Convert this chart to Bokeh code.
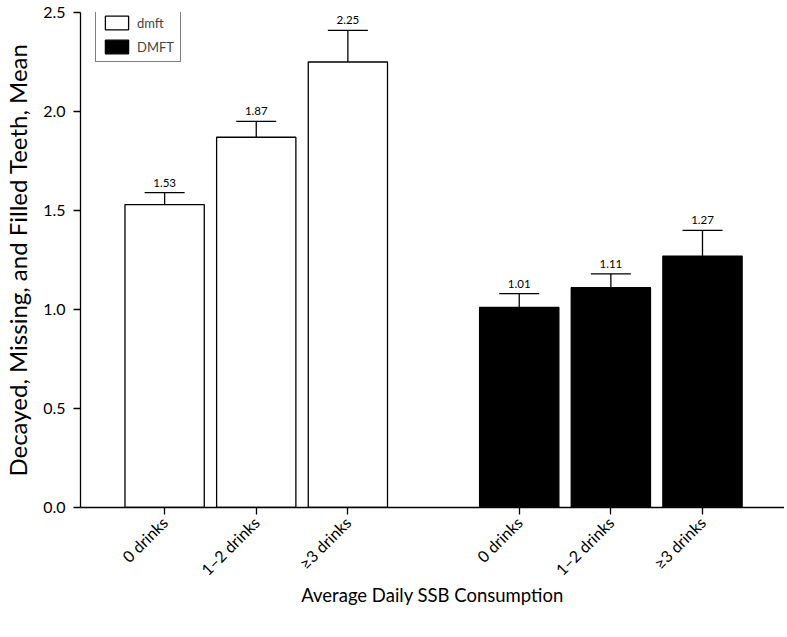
import math
from bokeh.plotting import figure
from bokeh.models import (ColumnDataSource, Whisker, TeeHead, FixedTicker, Range1d,
                          Legend, LegendItem, PrintfTickFormatter)
from bokeh.core.properties import value
from bokeh.embed import file_html
from bokeh.resources import INLINE

# ---- data ----
categories = ["0 drinks", "1\u20132 drinks", "\u22653 drinks"]
series_names = ["dmft", "DMFT"]
dmft_mean = [1.53, 1.87, 2.25]
dmft_lower = [1.46, 1.80, 2.09]
dmft_upper = [1.59, 1.95, 2.41]
DMFT_mean = [1.01, 1.11, 1.27]
DMFT_lower = [0.94, 1.04, 1.14]
DMFT_upper = [1.08, 1.18, 1.40]
y_ticks = [0.0, 0.5, 1.0, 1.5, 2.0, 2.5]

FONT = "Lato"
group_gap = 3.87
bar_w = 0.865

p = figure(width=784, height=630, output_backend="svg", toolbar_location=None,
           x_range=Range1d(-0.918, 6.765), y_range=Range1d(0, 2.5),
           min_border_left=79, min_border_top=12, min_border_bottom=123, min_border_right=0)
p.outline_line_color = None
p.grid.grid_line_color = None
p.background_fill_color = "white"

renderers = []
all_ticks = []
overrides = {}
for gi, (name, means, lo, up, fill) in enumerate([
        ("dmft", dmft_mean, dmft_lower, dmft_upper, "white"),
        ("DMFT", DMFT_mean, DMFT_lower, DMFT_upper, "black")]):
    xs = [gi * group_gap + i for i in range(len(categories))]
    src = ColumnDataSource(dict(x=xs, top=means, lower=lo, upper=up,
                                label=["%.2f" % m for m in means]))
    r = p.vbar(x="x", top="top", width=bar_w, bottom=0, source=src,
               fill_color=fill, line_color="black", line_width=1.3)
    renderers.append(r)
    w = Whisker(source=src, base="x", upper="upper", lower="lower",
                line_color="black", line_width=1.3,
                upper_head=TeeHead(size=40, line_color="black", line_width=1.3),
                lower_head=TeeHead(size=40, line_color="black", line_width=1.3))
    p.add_layout(w)
    p.text(x="x", y="upper", text="label", source=src, text_align="center",
           text_baseline="bottom", y_offset=-6, text_font=value(FONT),
           text_font_size="11.5px", text_color="black")
    for x, c in zip(xs, categories):
        all_ticks.append(x)
        overrides[x] = c

p.xaxis.ticker = FixedTicker(ticks=all_ticks)
p.xaxis.major_label_overrides = overrides
p.xaxis.major_label_orientation = math.pi / 4
p.yaxis.ticker = FixedTicker(ticks=y_ticks)
p.yaxis.formatter = PrintfTickFormatter(format="%.1f")

for ax in (p.xaxis, p.yaxis):
    ax.axis_line_color = "black"
    ax.axis_line_width = 1.3
    ax.major_tick_line_color = "black"
    ax.major_tick_line_width = 1.3
    ax.major_tick_out = 7
    ax.major_tick_in = 0
    ax.minor_tick_line_color = None
    ax.major_label_text_font = FONT
    ax.major_label_text_color = "black"
    ax.axis_label_text_font = FONT
    ax.axis_label_text_font_style = "normal"
    ax.axis_label_text_color = "black"

p.xaxis.major_label_text_font_size = "16px"
p.yaxis.major_label_text_font_size = "16px"
p.xaxis.axis_label = "Average Daily SSB Consumption"
p.yaxis.axis_label = "Decayed, Missing, and Filled Teeth, Mean"
p.xaxis.axis_label_text_font_size = "18.5px"
p.yaxis.axis_label_text_font_size = "24px"
p.xaxis.axis_label_standoff = -5
p.yaxis.axis_label_standoff = 8
p.yaxis.major_label_standoff = 8
p.xaxis.major_label_standoff = 5

legend = Legend(items=[LegendItem(label=series_names[0], renderers=[renderers[0]]),
                       LegendItem(label=series_names[1], renderers=[renderers[1]])],
                location=(15, 445), orientation="vertical")
legend.border_line_color = "black"
legend.border_line_width = 1.3
legend.background_fill_alpha = 1
legend.glyph_width = 29
legend.glyph_height = 17
legend.label_height = 17
legend.padding = 6
legend.spacing = 7
legend.margin = 0
legend.label_standoff = 6
legend.label_text_font = FONT
legend.label_text_font_size = "13px"
p.add_layout(legend)

open("out.html", "w").write(file_html(p, INLINE))
